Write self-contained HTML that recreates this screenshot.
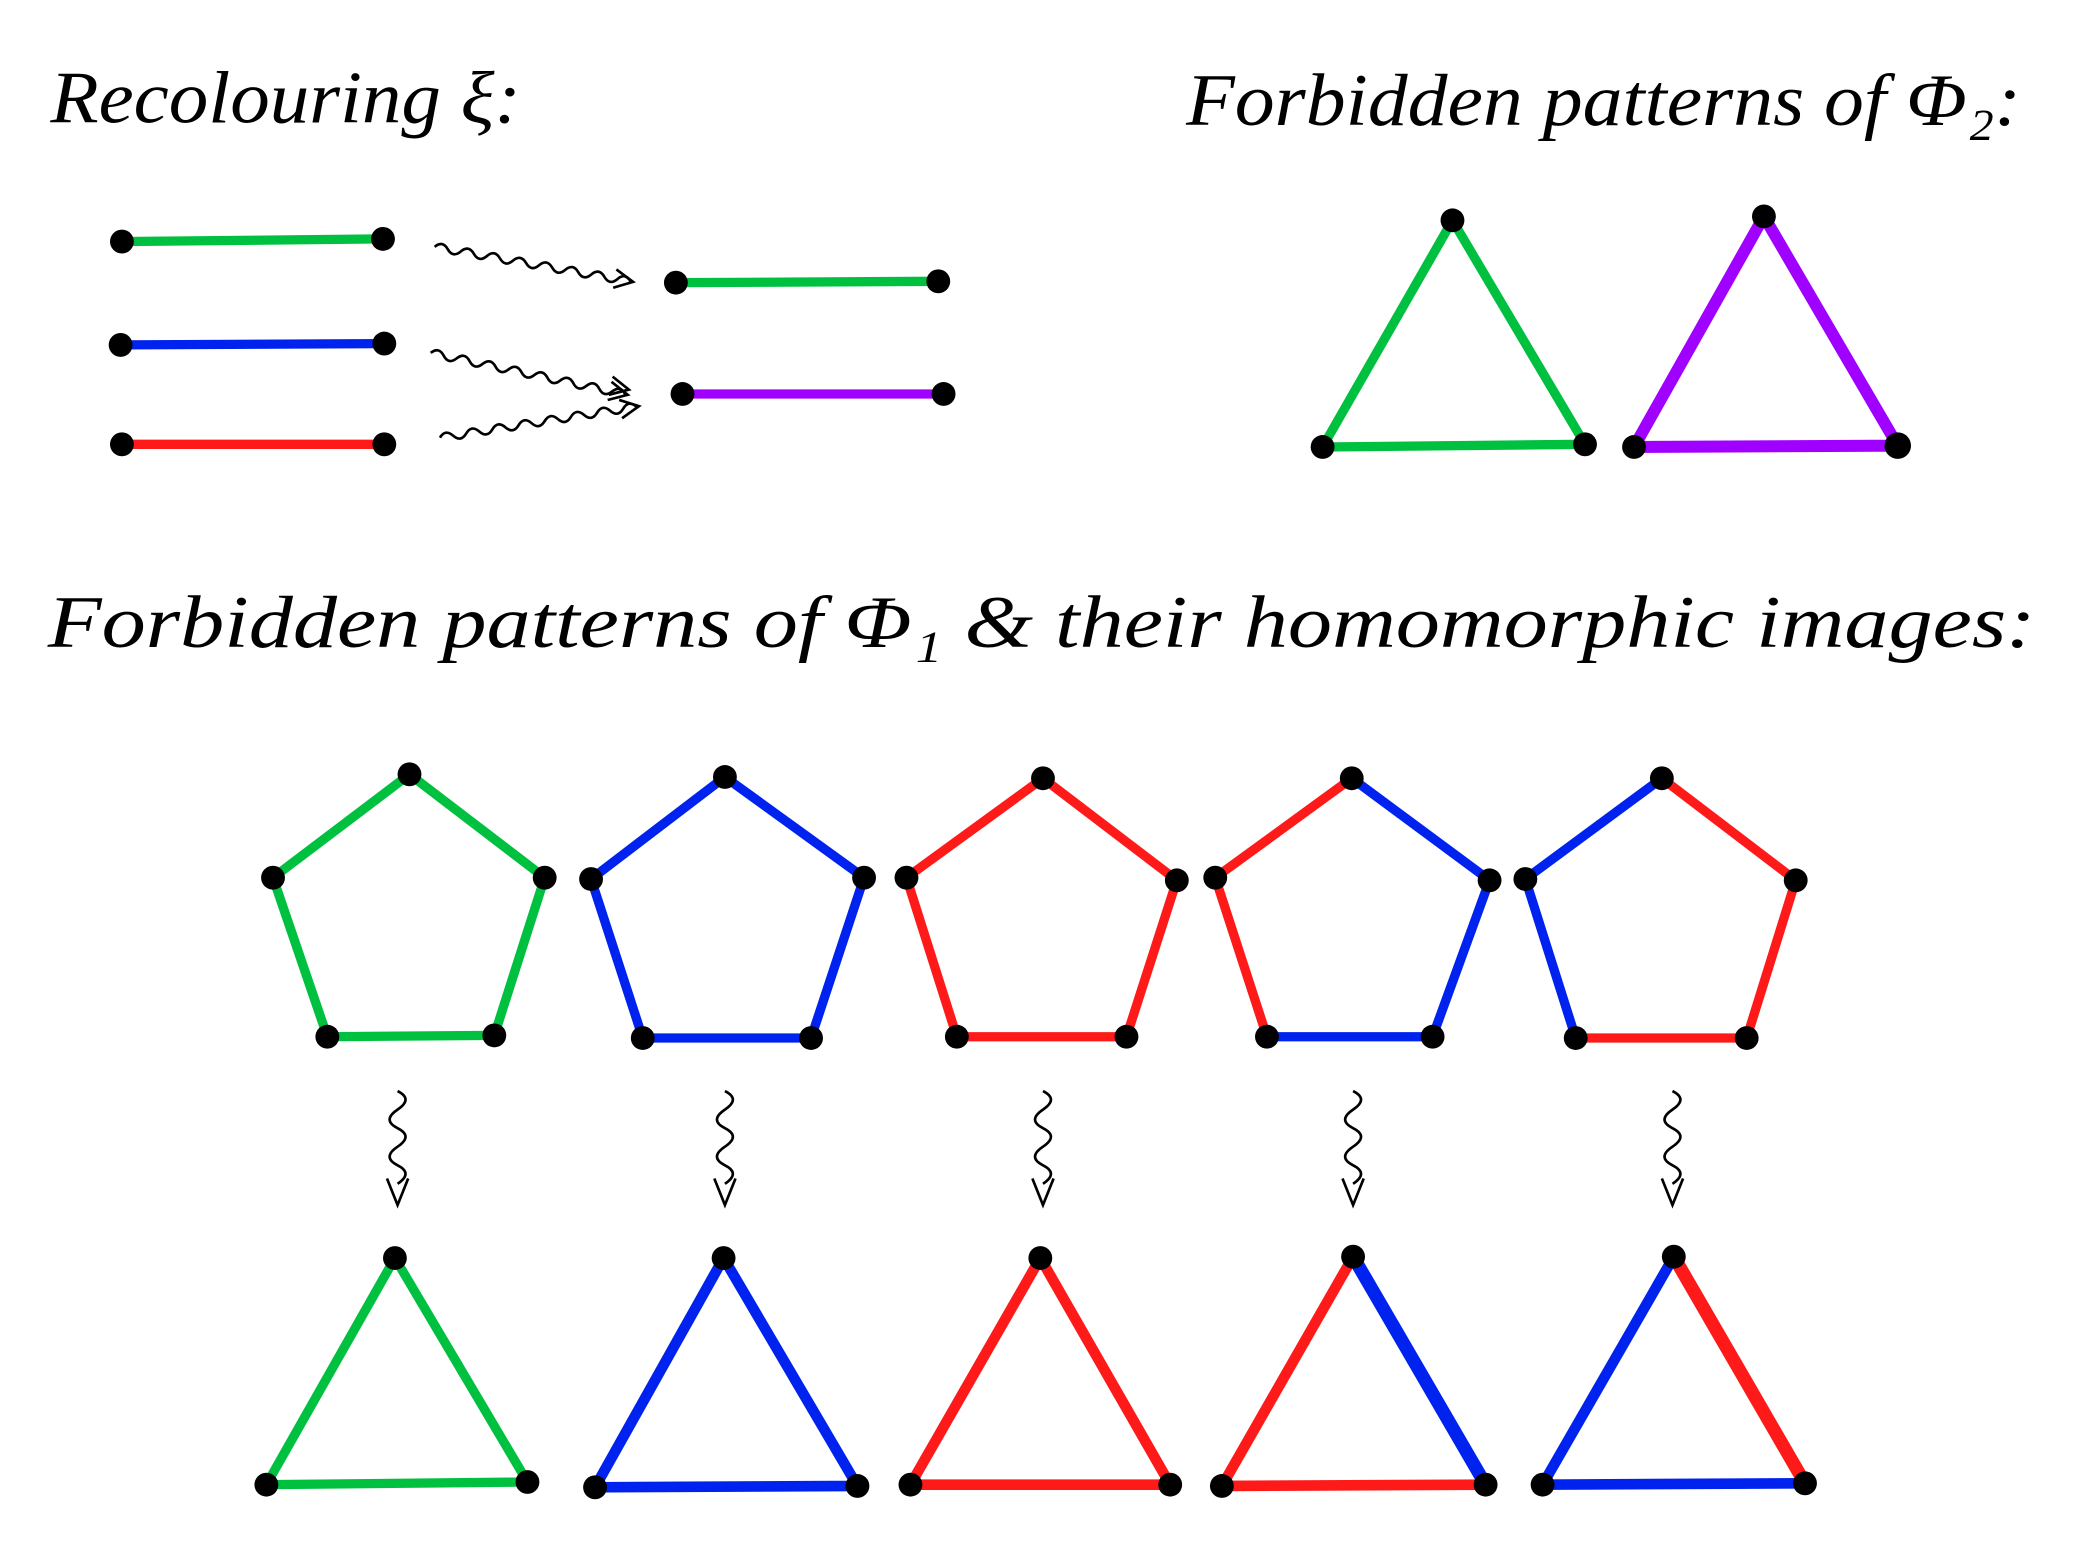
<!DOCTYPE html>
<html><head><meta charset="utf-8"><style>
html,body{margin:0;padding:0;background:#fff;}
svg{display:block;}
text{font-family:"Liberation Serif",serif;font-style:italic;fill:#000;}
</style></head><body>
<svg width="2078" height="1542" viewBox="0 0 1568 1163" xmlns="http://www.w3.org/2000/svg">
<defs>
<path id="wv" d="M0 0 q5 -6 10 0 t10 0 t10 0 t10 0 t10 0 t10 0 t10 0 t10 0 t10 0 t10 0 t10 0 t10 0 t10 0 t10 0 t10 0" fill="none" stroke="#000" stroke-width="2"/>
<path id="ah" d="M138 -7 L152 0 L138 7" fill="none" stroke="#000" stroke-width="2"/>
<path id="vw" d="M0 0 q12 6 0 14 t0 14 t0 14 t0 14 t0 14 M-8 66 L0 86 L8 66" fill="none" stroke="#000" stroke-width="2"/>
</defs>
<text x="38" y="92" font-size="56" textLength="355" lengthAdjust="spacingAndGlyphs">Recolouring ξ:</text>
<text x="895" y="94" font-size="56" textLength="630" lengthAdjust="spacingAndGlyphs">Forbidden patterns of Φ₂:</text>
<text x="36" y="488" font-size="56" textLength="1500" lengthAdjust="spacingAndGlyphs">Forbidden patterns of Φ₁ &amp; their homomorphic images:</text>
<g stroke-width="7" stroke-linecap="round">
<line x1="92" y1="182" x2="289" y2="180" stroke="#00c040"/>
<line x1="91" y1="260" x2="290" y2="259" stroke="#0022ee"/>
<line x1="92" y1="335" x2="290" y2="335" stroke="#ff1a1a"/>
<line x1="510" y1="213" x2="708" y2="212" stroke="#00c040"/>
<line x1="515" y1="297" x2="712" y2="297" stroke="#a000ff"/>
<path d="M1096 166 L998 337 L1196 335 Z" fill="none" stroke="#00c040"/>
<path d="M1331 163 L1233 337 L1432 336 Z" fill="none" stroke="#a000ff" stroke-width="9"/>
<path d="M309 584 L411 662 L373 781 L247 782 L206 662 Z" fill="none" stroke="#00c040"/>
<path d="M547 586 L652 662 L612 783 L485 783 L446 663 Z" fill="none" stroke="#0022ee"/>
<path d="M787 587 L888 664 L850 782 L722 782 L684 662 Z" fill="none" stroke="#ff1a1a"/>
<path d="M1020 587 L917 662 L956 782" fill="none" stroke="#ff1a1a"/>
<path d="M1020 587 L1124 664 L1081 782 L956 782" fill="none" stroke="#0022ee"/>
<path d="M1254 587 L1151 663 L1189 783" fill="none" stroke="#0022ee"/>
<path d="M1254 587 L1355 664 L1318 783 L1189 783" fill="none" stroke="#ff1a1a"/>
<path d="M298 949 L201 1120 L398 1118 Z" fill="none" stroke="#00c040"/>
<path d="M546 949 L449 1122 L647 1121 Z" fill="none" stroke="#0022ee" stroke-width="8"/>
<path d="M785 949 L687 1120 L883 1120 Z" fill="none" stroke="#ff1a1a" stroke-width="8"/>
<path d="M1021 948 L922 1121 L1121 1120" fill="none" stroke="#ff1a1a" stroke-width="8"/>
<path d="M1021 948 L1121 1120" fill="none" stroke="#0022ee" stroke-width="10"/>
<path d="M1263 948 L1164 1120 L1362 1119" fill="none" stroke="#0022ee" stroke-width="8"/>
<path d="M1263 948 L1362 1119" fill="none" stroke="#ff1a1a" stroke-width="10"/>
</g>
<g transform="translate(328,186) rotate(10)"><use href="#wv"/><use href="#ah"/></g>
<g transform="translate(325,266) rotate(12)"><use href="#wv"/><use href="#ah"/><use href="#ah" transform="translate(0,-4)"/></g>
<g transform="translate(332,330) rotate(-9)"><use href="#wv"/><use href="#ah"/></g>
<g transform="translate(300,823)"><use href="#vw"/></g>
<g transform="translate(547,823)"><use href="#vw"/></g>
<g transform="translate(787,823)"><use href="#vw"/></g>
<g transform="translate(1021,823)"><use href="#vw"/></g>
<g transform="translate(1262,823)"><use href="#vw"/></g>
<g fill="#000">
<circle cx="92" cy="182" r="9"/><circle cx="289" cy="180" r="9"/>
<circle cx="91" cy="260" r="9"/><circle cx="290" cy="259" r="9"/>
<circle cx="92" cy="335" r="9"/><circle cx="290" cy="335" r="9"/>
<circle cx="510" cy="213" r="9"/><circle cx="708" cy="212" r="9"/>
<circle cx="515" cy="297" r="9"/><circle cx="712" cy="297" r="9"/>
<circle cx="1096" cy="166" r="9"/><circle cx="998" cy="337" r="9"/><circle cx="1196" cy="335" r="9"/>
<circle cx="1331" cy="163" r="9"/><circle cx="1233" cy="337" r="9"/><circle cx="1432" cy="336" r="10"/>
<circle cx="309" cy="584" r="9"/><circle cx="411" cy="662" r="9"/><circle cx="373" cy="781" r="9"/><circle cx="247" cy="782" r="9"/><circle cx="206" cy="662" r="9"/>
<circle cx="547" cy="586" r="9"/><circle cx="652" cy="662" r="9"/><circle cx="612" cy="783" r="9"/><circle cx="485" cy="783" r="9"/><circle cx="446" cy="663" r="9"/>
<circle cx="787" cy="587" r="9"/><circle cx="888" cy="664" r="9"/><circle cx="850" cy="782" r="9"/><circle cx="722" cy="782" r="9"/><circle cx="684" cy="662" r="9"/>
<circle cx="1020" cy="587" r="9"/><circle cx="1124" cy="664" r="9"/><circle cx="1081" cy="782" r="9"/><circle cx="956" cy="782" r="9"/><circle cx="917" cy="662" r="9"/>
<circle cx="1254" cy="587" r="9"/><circle cx="1355" cy="664" r="9"/><circle cx="1318" cy="783" r="9"/><circle cx="1189" cy="783" r="9"/><circle cx="1151" cy="663" r="9"/>
<circle cx="298" cy="949" r="9"/><circle cx="201" cy="1120" r="9"/><circle cx="398" cy="1118" r="9"/>
<circle cx="546" cy="949" r="9"/><circle cx="449" cy="1122" r="9"/><circle cx="647" cy="1121" r="9"/>
<circle cx="785" cy="949" r="9"/><circle cx="687" cy="1120" r="9"/><circle cx="883" cy="1120" r="9"/>
<circle cx="1021" cy="948" r="9"/><circle cx="922" cy="1121" r="9"/><circle cx="1121" cy="1120" r="9"/>
<circle cx="1263" cy="948" r="9"/><circle cx="1164" cy="1120" r="9"/><circle cx="1362" cy="1119" r="9"/>
</g>
</svg>
</body></html>
